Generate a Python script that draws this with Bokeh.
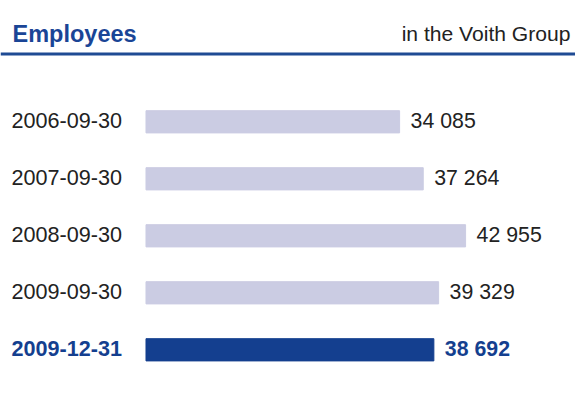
from bokeh.plotting import figure
from bokeh.models import Range1d, Label, Span, ColumnDataSource
from bokeh.core.properties import value
from bokeh.embed import file_html
from bokeh.resources import INLINE

dates = ["2006-09-30", "2007-09-30", "2008-09-30", "2009-09-30", "2009-12-31"]
employees = [34085, 37264, 42955, 39329, 38692]
value_labels = ["34 085", "37 264", "42 955", "39 329", "38 692"]
title_text = "Employees"
subtitle_text = "in the Voith Group"

LIGHT = "#cbcce3"
DARK = "#143f8f"
TXT = "#222222"
FONT = "Liberation Sans"

W, H = 575, 410
rows = list(range(len(dates)))
colors = [LIGHT] * 4 + [DARK]
text_colors = [TXT] * 4 + [DARK]
styles = ["normal"] * 4 + ["bold"]

src = ColumnDataSource(dict(y=rows, x=employees, d=dates, v=value_labels,
                            c=colors, tc=text_colors, fs=styles, zero=[0] * len(rows)))

p = figure(width=W, height=H, output_backend="svg", toolbar_location=None,
           x_range=Range1d(-19556, 57728), y_range=Range1d(5.065, -2.128),
           min_border=0, min_border_left=0, min_border_right=0,
           min_border_top=0, min_border_bottom=0)
p.axis.visible = False
p.grid.visible = False
p.outline_line_color = None
p.background_fill_color = "white"
p.border_fill_color = "white"

p.hbar(y="y", left="zero", right="x", height=0.39, color="c", source=src)

p.text(x="zero", y="y", text="d", source=src, x_offset=-134.5, y_offset=-1,
       text_align="left", text_baseline="middle", text_font=value(FONT),
       text_font_size="21.6px", text_color="tc", text_font_style="fs")
p.text(x="x", y="y", text="v", source=src, x_offset=11, y_offset=-1,
       text_align="left", text_baseline="middle", text_font=value(FONT),
       text_font_size="21.3px", text_color="tc", text_font_style="fs")

p.add_layout(Span(location=-1.189, dimension="width", line_color="#1f4b94", line_width=3))

p.add_layout(Label(x=12, y=H - 33.3, x_units="screen", y_units="screen", text=title_text,
                   text_font=FONT, text_font_size="23.5px", text_font_style="bold",
                   text_color="#1a4596", text_baseline="alphabetic", text_align="left"))
p.add_layout(Label(x=570, y=H - 33.3, x_units="screen", y_units="screen", text=subtitle_text,
                   text_font=FONT, text_font_size="21.1px",
                   text_color=TXT, text_baseline="alphabetic", text_align="right"))

open("out.html", "w").write(file_html(p, INLINE))
